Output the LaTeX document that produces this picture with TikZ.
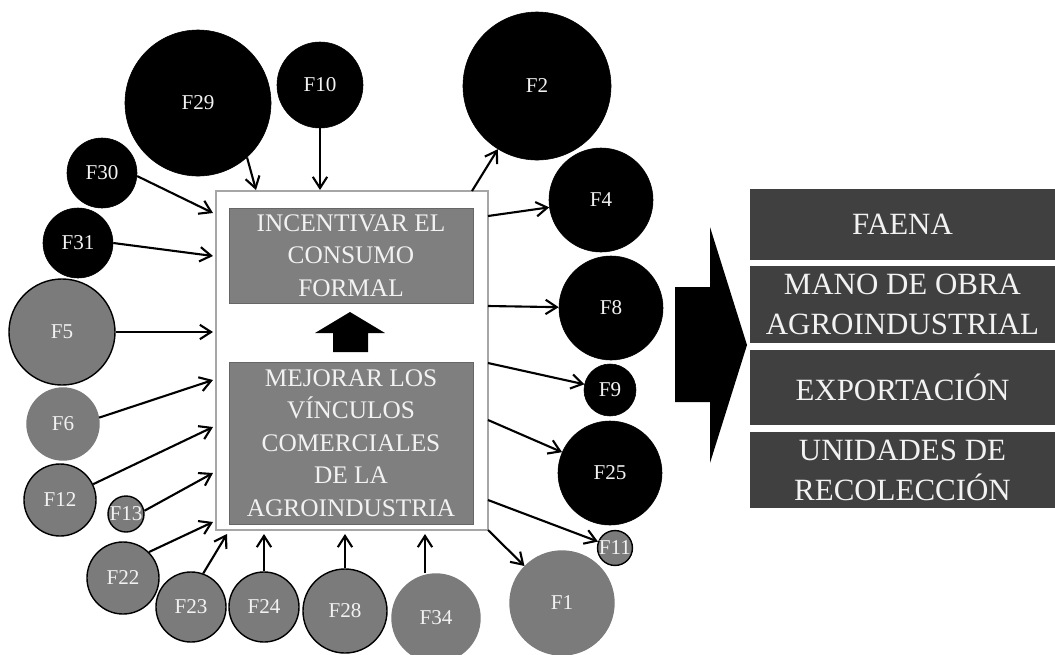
\documentclass[tikz,border=0pt]{standalone}
\usepackage{fontspec}
\setmainfont{Liberation Serif}
\usetikzlibrary{arrows.meta}
\newcommand{\txtcirc}{\fontsize{15}{18}\selectfont}
\newcommand{\txtmain}{\fontsize{18}{23.1}\selectfont}
\newcommand{\txtside}{\fontsize{22}{28.4}\selectfont}
\definecolor{factgray}{HTML}{7B7B7B}
\definecolor{boxgray}{HTML}{7F7F7F}
\definecolor{sidegray}{HTML}{404040}
\definecolor{labwhite}{HTML}{F2F2F2}

\begin{document}
\begin{tikzpicture}[x=0.025cm, y=-0.025cm,
  blk/.style={circle, fill=black, draw=black, inner sep=0pt, text=labwhite, font=\txtcirc},
  gry/.style={circle, fill=factgray, draw=black, line width=1pt, inner sep=0pt, text=labwhite, font=\txtcirc},
  gryl/.style={gry, draw=factgray},
  arr/.style={-{Straight Barb[length=2.8mm, width=3.6mm]}, line width=1.5pt},
  inbox/.style={draw=black!60, fill=boxgray, text=labwhite, font=\txtmain, align=center, inner sep=0pt, minimum width=6.1cm},
  sidebox/.style={fill=sidegray, text=labwhite, font=\txtside, align=center, inner sep=0pt, minimum width=7.625cm}]
  \useasboundingbox (0,0) rectangle (1055,654);

  % central block
  \node (main) [draw=black!35, line width=2pt, fill=white, minimum width=6.8cm, minimum height=8.475cm] at (352,360.5) {};
  \node (goal) [inbox, minimum height=2.375cm] at (351,255.5) {INCENTIVAR EL\\CONSUMO\\FORMAL};
  \node (link) [inbox, minimum height=4.05cm] at (351,443) {MEJORAR LOS\\VÍNCULOS\\COMERCIALES\\DE LA\\AGROINDUSTRIA};
  \fill (333,352) -- (333,333) -- (315,333) -- (350,312) -- (385,333) -- (368,333) -- (368,352) -- cycle;

  % factors
  \node (F29) [blk, minimum size=3.65cm] at (198,103) {F29};
  \node (F10) [blk, minimum size=2.15cm] at (320,85) {F10};
  \node (F30) [blk, minimum size=1.75cm] at (102,173) {F30};
  \node (F31) [blk, minimum size=1.75cm] at (78,243) {F31};
  \node (F5) [gry, minimum size=2.65cm] at (62,332) {F5};
  \node (F6) [gryl, minimum size=1.8cm] at (63,424) {F6};
  \node (F12) [gry, minimum size=1.8cm] at (60,500) {F12};
  \node (F13) [gry, minimum size=0.9cm] at (126,514) {F13};
  \node (F22) [gry, minimum size=1.8cm] at (123,578) {F22};
  \node (F23) [gry, minimum size=1.75cm] at (191,607) {F23};
  \node (F24) [gry, minimum size=1.75cm] at (264,607) {F24};
  \node (F28) [gry, minimum size=2.1cm] at (345,611) {F28};
  \node (F34) [gryl, minimum size=2.2cm] at (436,618) {F34};
  \node (F1) [gryl, minimum size=2.6cm] at (562,603) {F1};
  \node (F11) [gry, minimum size=0.85cm] at (615,548) {F11};
  \node (F25) [blk, minimum size=2.6cm] at (610,473) {F25};
  \node (F9) [blk, minimum size=1.3cm] at (610,390) {F9};
  \node (F8) [blk, minimum size=2.6cm] at (611,308) {F8};
  \node (F4) [blk, minimum size=2.6cm] at (601,200) {F4};
  \node (F2) [blk, minimum size=3.7cm] at (537,86) {F2};

  % arrow ends on the block
  \coordinate (t29) at (256,190);
  \coordinate (t10) at (320,190);
  \coordinate (l30) at (213,213);
  \coordinate (l31) at (213,256);
  \coordinate (l5) at (213,332);
  \coordinate (l6) at (213,380);
  \coordinate (l12) at (213,427);
  \coordinate (l13) at (213,473);
  \coordinate (l22) at (213,522);
  \coordinate (b23) at (227,534);
  \coordinate (b24) at (264,534);
  \coordinate (b28) at (345,534);
  \coordinate (b34) at (425,534);
  \coordinate (o2) at (472,191);
  \coordinate (o4) at (488,216);
  \coordinate (o8) at (488,306);
  \coordinate (o9) at (488,363);
  \coordinate (o25) at (488,420);
  \coordinate (o11) at (488,500);
  \coordinate (o1) at (488,530);

  \draw[arr] (F29.-48) -- (t29);
  \draw[arr] (F10) -- (t10);
  \draw[arr] (F30.-5) -- (l30);
  \draw[arr] (F31.east) -- (l31);
  \draw[arr] (F5) -- (l5);
  \draw[arr] (F6.10) -- (l6);
  \draw[arr] (F12) -- (l12);
  \draw[arr] (F13.10) -- (l13);
  \draw[arr] (F22.45) -- (l22);
  \draw[arr] (F23.70) -- (b23);
  \draw[arr] (F24) -- (b24);
  \draw[arr] (F28) -- (b28);
  \draw[arr] (F34.north -| b34) -- (b34);
  \draw[arr] (o2) -- (F2);
  \draw[arr] (o4) -- (F4);
  \draw[arr] (o8) -- (F8);
  \draw[arr] (o9) -- (F9);
  \draw[arr] (o25) -- (F25);
  \draw[arr] (o11) -- (F11);
  \draw[arr] (o1) -- (F1);

  % results
  \fill (675,287) -- (710,287) -- (710,227) -- (747,345) -- (710,463) -- (710,402) -- (675,402) -- cycle;
  \node (faena) [sidebox, minimum height=1.775cm] at (902.5,224.5) {FAENA};
  \node (mano) [sidebox, minimum height=1.925cm] at (902.5,304.5) {MANO DE OBRA\\AGROINDUSTRIAL};
  \node (expo) [sidebox, minimum height=1.875cm] at (902.5,387.5) {EXPORTACIÓN};
  \node (unid) [sidebox, minimum height=1.9cm] at (902.5,470) {UNIDADES DE\\RECOLECCIÓN};
\end{tikzpicture}
\end{document}
